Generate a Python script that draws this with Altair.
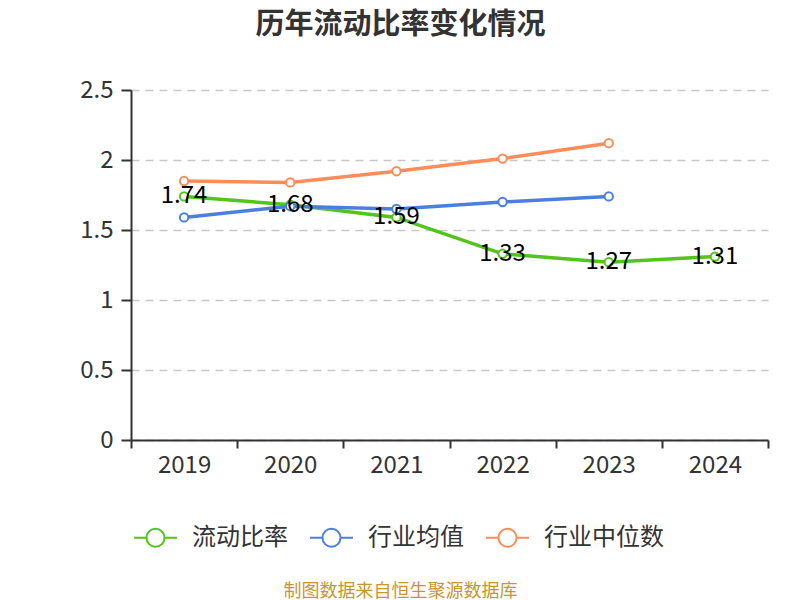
import altair as alt
import pandas as pd

years = ["2019", "2020", "2021", "2022", "2023", "2024"]
series_names = ["流动比率", "行业均值", "行业中位数"]
ratio = [1.74, 1.68, 1.59, 1.33, 1.27, 1.31]
industry_mean = [1.59, 1.67, 1.65, 1.70, 1.74]
industry_median = [1.85, 1.84, 1.92, 2.01, 2.12]
colors = ["#52c41a", "#4a7fe0", "#fc8c5a"]

rows = []
for name, vals in zip(series_names, [ratio, industry_mean, industry_median]):
    for y, v in zip(years, vals):
        rows.append({"year": y, "series": name, "value": v})
df = pd.DataFrame(rows)

FONT = "Noto Sans CJK SC"

x_enc = alt.X(
    "year:N",
    sort=years,
    scale=alt.Scale(type="band", paddingInner=0, paddingOuter=0),
    axis=alt.Axis(
        title="制图数据来自恒生聚源数据库",
        titleX=269,
        titleY=151,
        titleBaseline="middle",
        titleAlign="center",
        titleAnchor="start",
        titleFontSize=18,
        titleFontWeight="normal",
        titleColor="#c8962e",
        titleFont=FONT,
        labelAngle=0,
        labelFontSize=24,
        labelColor="#333333",
        labelPadding=5,
        tickBand="extent",
        tickSize=8,
        tickWidth=2,
        tickColor="#333333",
        domainColor="#333333",
        domainWidth=2,
        grid=False,
    ),
)
y_enc = alt.Y(
    "value:Q",
    scale=alt.Scale(domain=[0, 2.5], nice=False),
    axis=alt.Axis(
        title=None,
        values=[0, 0.5, 1, 1.5, 2, 2.5],
        labelExpr="datum.value + ''",
        labelFontSize=24,
        labelColor="#333333",
        labelPadding=8,
        tickSize=10,
        tickWidth=2,
        tickColor="#333333",
        domainColor="#333333",
        domainWidth=2,
        grid=True,
        gridDash=[8, 6],
        gridColor="#c8c8c8",
        gridWidth=1.5,
    ),
)

legend_symbol = (
    "M -1 0 L -0.42 0 M 0.42 0 L 1 0 "
    "M -0.42 0 A 0.42 0.42 0 1 1 0.42 0 A 0.42 0.42 0 1 1 -0.42 0"
)

color_enc = alt.Color(
    "series:N",
    scale=alt.Scale(domain=series_names, range=colors),
    sort=series_names,
    legend=alt.Legend(
        title=None,
        orient="none",
        direction="horizontal",
        legendX=2,
        legendY=425,
        symbolType=legend_symbol,
        symbolSize=1849,
        symbolStrokeWidth=2,
        symbolFillColor="white",
        labelFontSize=24,
        labelColor="#333333",
        labelFont=FONT,
        labelOffset=14,
        columnPadding=18,
        labelLimit=200,
    ),
)

base = alt.Chart(df)

lines = base.mark_line(strokeWidth=3.5).encode(
    x=x_enc,
    y=y_enc,
    color=color_enc,
    order=alt.Order("year:N"),
)

points = base.mark_point(filled=False, fill="white", fillOpacity=1, size=70, strokeWidth=2, opacity=1).encode(
    x=x_enc,
    y=y_enc,
    color=color_enc,
)

labels = base.transform_filter(alt.datum.series == "流动比率").mark_text(
    fontSize=24, color="#000000", baseline="middle", align="center", font=FONT
).encode(
    x=x_enc,
    y=y_enc,
    text=alt.Text("value:Q", format=".2f"),
)

chart = (
    alt.layer(lines, points, labels)
    .properties(
        width=637,
        height=350,
        autosize=alt.AutoSizeParams(type="none"),
        padding={"left": 123, "top": 82, "right": 20, "bottom": 162},
        title=alt.TitleParams(
            "历年流动比率变化情况",
            anchor="middle",
            dx=-49,
            offset=38,
            fontSize=29,
            fontWeight="bold",
            color="#333333",
            font=FONT,
        ),
    )
    .configure_view(stroke=None)
    .configure_axis(labelFont=FONT)
)

chart.save("out.html", embed_options={"renderer": "svg", "actions": False})
